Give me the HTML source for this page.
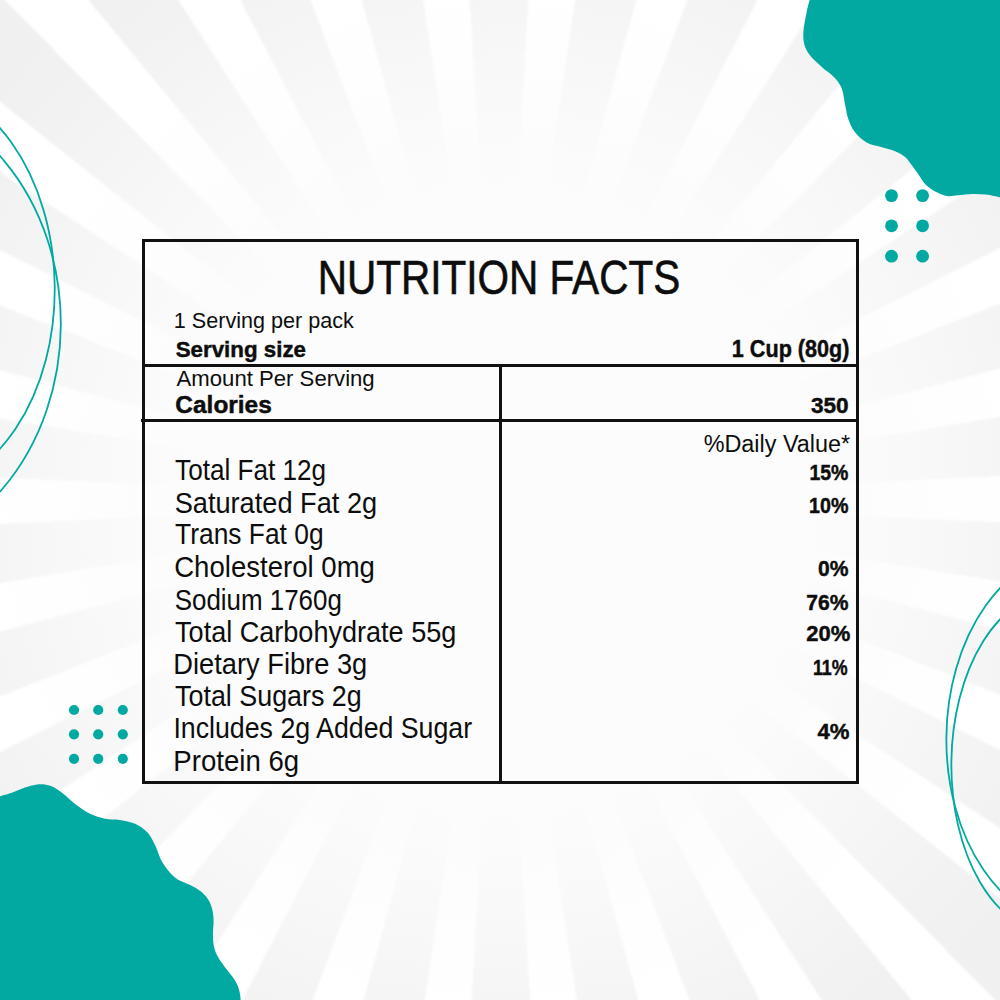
<!DOCTYPE html>
<html><head><meta charset="utf-8"><style>
html,body{margin:0;padding:0;}
body{width:1000px;height:1000px;overflow:hidden;position:relative;background:#fff;}
#bg{position:absolute;left:-20px;top:-20px;width:1040px;height:1040px;
filter:blur(1.2px);background:repeating-conic-gradient(from -3.45deg at 520px 520px, #f0f0f0 0deg 6.7deg, #ffffff 6.7deg 12deg);}
#fade{position:absolute;left:0;top:0;width:1000px;height:1000px;
background:radial-gradient(circle at 500px 500px, rgba(252,252,252,1) 0px, rgba(252,252,252,1) 300px, rgba(252,252,252,0.85) 370px, rgba(253,253,253,0.6) 440px, rgba(254,254,254,0.35) 510px, rgba(255,255,255,0.15) 580px, rgba(255,255,255,0) 660px);}
svg{position:absolute;left:0;top:0;}
text{font-family:"Liberation Sans",sans-serif;fill:#0d0d0d;}
</style></head><body>
<div id="bg"></div><div id="fade"></div>
<svg width="1000" height="1000" viewBox="0 0 1000 1000">
<path d="M811.0,-2.0 C810.8,-1.7 810.5,-2.5 809.7,0.0 C808.9,2.5 807.4,8.1 806.4,13.2 C805.4,18.3 803.9,25.7 803.5,30.8 C803.1,35.9 803.2,40.0 804.2,44.0 C805.2,48.0 806.8,51.2 809.7,55.0 C812.6,58.8 817.8,63.3 821.8,67.0 C825.8,70.7 830.6,73.5 833.9,77.0 C837.2,80.5 839.8,83.6 841.6,88.0 C843.4,92.4 843.8,98.3 844.9,103.4 C846.0,108.5 846.6,114.0 848.2,118.8 C849.9,123.6 851.7,128.0 854.8,132.0 C857.9,136.0 862.6,140.3 867.0,142.8 C871.4,145.3 876.3,145.6 881.0,147.0 C885.7,148.4 891.0,149.6 895.0,151.2 C899.0,152.8 902.0,154.5 904.8,156.8 C907.6,159.1 909.5,162.2 911.8,165.2 C914.1,168.2 916.5,171.7 918.8,175.0 C921.1,178.3 923.0,182.0 925.8,184.8 C928.6,187.6 932.1,189.9 935.6,191.8 C939.1,193.7 943.1,195.4 946.8,196.0 C950.5,196.6 953.8,195.6 958.0,195.3 C962.2,195.0 967.3,194.1 972.0,194.0 C976.7,193.9 981.3,194.0 986.0,194.6 C990.7,195.2 997.2,196.8 1000.0,197.4 C1002.8,198.1 1002.5,198.3 1003.0,198.5 L1003,-3 L811,-3 Z" fill="#02a9a0"/>
<path d="M-3.0,797.0 C-2.5,796.9 -2.6,797.0 0.0,796.2 C2.6,795.5 8.3,794.0 12.5,792.5 C16.7,791.0 20.6,788.9 25.0,787.5 C29.4,786.1 34.7,784.5 39.0,784.2 C43.3,784.0 47.0,784.5 51.0,786.0 C55.0,787.5 58.9,790.4 63.0,793.5 C67.1,796.6 71.3,801.1 75.8,804.5 C80.3,807.9 85.1,811.4 90.0,813.8 C94.9,816.1 100.0,817.7 105.0,818.8 C110.0,819.8 115.0,819.2 120.0,820.0 C125.0,820.8 130.4,821.7 135.0,823.8 C139.6,825.8 144.2,829.0 147.5,832.5 C150.8,836.0 152.5,840.0 155.0,845.0 C157.5,850.0 159.2,857.1 162.5,862.5 C165.8,867.9 170.1,873.6 175.0,877.5 C179.9,881.4 187.6,883.6 192.0,886.0 C196.4,888.4 198.8,889.6 201.6,892.0 C204.4,894.4 207.0,897.4 208.8,900.4 C210.6,903.4 211.6,906.6 212.4,910.0 C213.2,913.4 213.5,917.0 213.6,920.8 C213.7,924.6 213.0,928.8 213.0,932.8 C213.0,936.8 212.9,941.0 213.6,944.8 C214.3,948.6 215.4,952.0 217.2,955.6 C219.0,959.2 221.8,962.8 224.4,966.4 C227.0,970.0 230.6,974.0 232.8,977.2 C235.0,980.4 236.4,982.8 237.6,985.6 C238.8,988.4 239.5,991.6 240.0,994.0 C240.5,996.4 240.5,998.5 240.6,1000.0 C240.7,1001.5 240.8,1002.5 240.8,1003.0 L-3,1003 Z" fill="#02a9a0"/>
<ellipse cx="-136.21" cy="324.08" rx="197.04" ry="232.23" transform="rotate(0.28 -136.21 324.08)" fill="none" stroke="#02a9a0" stroke-width="1.8"/>
<ellipse cx="-86.95" cy="287.07" rx="141.68" ry="202.95" transform="rotate(-0.86 -86.95 287.07)" fill="none" stroke="#02a9a0" stroke-width="1.8"/>
<ellipse cx="1077.24" cy="738.5" rx="130.87" ry="187.07" transform="rotate(0.46 1077.24 738.5)" fill="none" stroke="#02a9a0" stroke-width="1.8"/>
<ellipse cx="1054.92" cy="762.8" rx="103.56" ry="170.55" transform="rotate(0.71 1054.92 762.8)" fill="none" stroke="#02a9a0" stroke-width="1.8"/>
<circle cx="891.5" cy="195.6" r="6.4" fill="#02a9a0"/>
<circle cx="891.5" cy="225.8" r="6.4" fill="#02a9a0"/>
<circle cx="891.5" cy="256.2" r="6.4" fill="#02a9a0"/>
<circle cx="922.6" cy="195.6" r="6.4" fill="#02a9a0"/>
<circle cx="922.6" cy="225.8" r="6.4" fill="#02a9a0"/>
<circle cx="922.6" cy="256.2" r="6.4" fill="#02a9a0"/>
<circle cx="74" cy="710" r="5.1" fill="#02a9a0"/>
<circle cx="74" cy="734.3" r="5.1" fill="#02a9a0"/>
<circle cx="74" cy="758.8" r="5.1" fill="#02a9a0"/>
<circle cx="98.2" cy="710" r="5.1" fill="#02a9a0"/>
<circle cx="98.2" cy="734.3" r="5.1" fill="#02a9a0"/>
<circle cx="98.2" cy="758.8" r="5.1" fill="#02a9a0"/>
<circle cx="122.8" cy="710" r="5.1" fill="#02a9a0"/>
<circle cx="122.8" cy="734.3" r="5.1" fill="#02a9a0"/>
<circle cx="122.8" cy="758.8" r="5.1" fill="#02a9a0"/>
<rect x="142" y="239" width="717" height="3" fill="#111111"/>
<rect x="142" y="781" width="717" height="3" fill="#111111"/>
<rect x="142" y="239" width="3" height="545" fill="#111111"/>
<rect x="856" y="239" width="3" height="545" fill="#111111"/>
<rect x="142" y="364" width="717" height="3" fill="#111111"/>
<rect x="141" y="419" width="718" height="3" fill="#111111"/>
<rect x="499" y="364" width="3" height="420" fill="#111111"/>
<text transform="translate(317.83,293.60) scale(0.8550,1)" font-size="47.4" font-weight="normal" stroke="#0d0d0d" stroke-width="0.6">NUTRITION FACTS</text>
<text transform="translate(173.78,327.70) scale(1.0145,1)" font-size="21.3" font-weight="normal">1 Serving per pack</text>
<text transform="translate(175.70,357.20) scale(0.9972,1)" font-size="22.4" font-weight="bold" stroke="#0d0d0d" stroke-width="0.45">Serving size</text>
<text transform="translate(731.85,357.00) scale(0.9001,1)" font-size="24.0" font-weight="bold" stroke="#0d0d0d" stroke-width="0.45">1 Cup (80g)</text>
<text transform="translate(176.60,385.60) scale(1.0393,1)" font-size="21.3" font-weight="normal">Amount Per Serving</text>
<text transform="translate(175.36,413.20) scale(1.0399,1)" font-size="23.5" font-weight="bold" stroke="#0d0d0d" stroke-width="0.45">Calories</text>
<text transform="translate(810.99,412.70) scale(1.0138,1)" font-size="22.3" font-weight="bold" stroke="#0d0d0d" stroke-width="0.45">350</text>
<text transform="translate(703.64,451.60) scale(0.9548,1)" font-size="24.5" font-weight="normal">%Daily Value*</text>
<text transform="translate(175.09,480.10) scale(0.9042,1)" font-size="28.9" font-weight="normal">Total Fat 12g</text>
<text transform="translate(174.65,512.60) scale(0.9410,1)" font-size="28.9" font-weight="normal">Saturated Fat 2g</text>
<text transform="translate(175.09,544.40) scale(0.9130,1)" font-size="28.9" font-weight="normal">Trans Fat 0g</text>
<text transform="translate(174.21,576.70) scale(0.9544,1)" font-size="28.9" font-weight="normal">Cholesterol 0mg</text>
<text transform="translate(174.69,609.50) scale(0.8974,1)" font-size="28.9" font-weight="normal">Sodium 1760g</text>
<text transform="translate(175.08,642.00) scale(0.9365,1)" font-size="28.9" font-weight="normal">Total Carbohydrate 55g</text>
<text transform="translate(173.37,673.75) scale(0.9434,1)" font-size="28.9" font-weight="normal">Dietary Fibre 3g</text>
<text transform="translate(175.08,705.70) scale(0.9298,1)" font-size="28.9" font-weight="normal">Total Sugars 2g</text>
<text transform="translate(173.41,738.40) scale(0.9253,1)" font-size="28.9" font-weight="normal">Includes 2g Added Sugar</text>
<text transform="translate(173.34,770.70) scale(0.9549,1)" font-size="28.9" font-weight="normal">Protein 6g</text>
<text transform="translate(809.38,480.10) scale(0.8715,1)" font-size="22.4" font-weight="bold" stroke="#0d0d0d" stroke-width="0.45">15%</text>
<text transform="translate(809.07,512.90) scale(0.8785,1)" font-size="22.4" font-weight="bold" stroke="#0d0d0d" stroke-width="0.45">10%</text>
<text transform="translate(818.05,575.80) scale(0.9402,1)" font-size="22.4" font-weight="bold" stroke="#0d0d0d" stroke-width="0.45">0%</text>
<text transform="translate(806.35,609.80) scale(0.9398,1)" font-size="22.4" font-weight="bold" stroke="#0d0d0d" stroke-width="0.45">76%</text>
<text transform="translate(806.21,641.00) scale(0.9813,1)" font-size="22.4" font-weight="bold" stroke="#0d0d0d" stroke-width="0.45">20%</text>
<text transform="translate(812.88,674.90) scale(0.7966,1)" font-size="22.4" font-weight="bold" stroke="#0d0d0d" stroke-width="0.45">11%</text>
<text transform="translate(817.40,738.90) scale(0.9887,1)" font-size="22.4" font-weight="bold" stroke="#0d0d0d" stroke-width="0.45">4%</text>
</svg>
</body></html>
